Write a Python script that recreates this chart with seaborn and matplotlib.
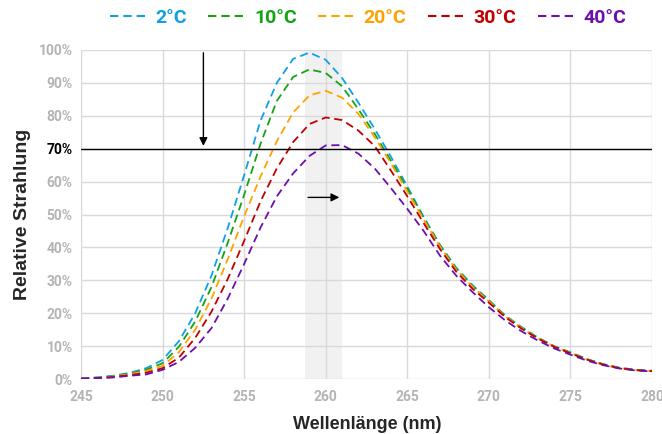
import numpy as np
import pandas as pd
import matplotlib
matplotlib.use("Agg")
import matplotlib.pyplot as plt
import seaborn as sns

wavelength = list(range(245, 281))

temps = ["2°C", "10°C", "20°C", "30°C", "40°C"]
colors = ["#0fa0e6", "#13a413", "#ffa200", "#c00000", "#6d0eb0"]

t02 = [0.2, 0.5, 1.0, 1.9, 3.3, 5.8, 11.5, 20.0, 31.5, 46.0, 62.0, 78.5, 90.0, 97.3, 99.2,
       97.0, 91.5, 84.0, 76.0, 67.5, 58.5, 49.3, 40.8, 33.8, 28.5, 24.0, 19.3, 15.8, 12.6,
       10.0, 8.1, 6.1, 4.5, 3.4, 2.8, 2.5]
t10 = [0.2, 0.4, 0.9, 1.7, 2.8, 4.8, 9.8, 17.5, 28.0, 41.5, 56.0, 71.5, 84.5, 91.8, 94.1,
       93.0, 89.0, 82.0, 74.5, 66.3, 57.8, 49.0, 40.6, 33.5, 28.2, 23.8, 19.2, 15.6, 12.5,
       9.9, 8.0, 6.0, 4.5, 3.4, 2.8, 2.5]
t20 = [0.15, 0.35, 0.8, 1.5, 2.4, 4.0, 8.2, 15.0, 24.5, 36.5, 49.5, 61.5, 72.3, 81.0, 86.2,
       87.6, 85.5, 80.6, 73.5, 65.5, 57.0, 48.5, 40.3, 33.2, 28.0, 23.6, 19.0, 15.5, 12.4,
       9.9, 7.9, 6.0, 4.4, 3.3, 2.7, 2.4]
t30 = [0.1, 0.3, 0.6, 1.2, 1.9, 3.3, 6.5, 12.5, 20.5, 30.5, 42.0, 54.0, 64.0, 72.0, 77.5,
       79.5, 78.7, 75.5, 70.8, 63.3, 55.5, 47.4, 39.5, 32.6, 27.4, 23.2, 18.8, 15.3, 12.3,
       9.8, 7.8, 5.9, 4.4, 3.3, 2.7, 2.4]
t40 = [0.1, 0.25, 0.5, 1.0, 1.4, 2.8, 5.2, 9.5, 15.5, 24.5, 35.0, 46.0, 55.5, 62.5, 67.8,
       71.0, 71.1, 68.5, 64.0, 58.0, 51.7, 45.0, 37.5, 31.4, 26.4, 21.8, 17.8, 14.5, 11.7,
       9.3, 7.4, 5.6, 4.2, 3.2, 2.6, 2.3]

series = [t02, t10, t20, t30, t40]

band = (258.75, 261.0)
threshold = 70
arrow_v_x = 252.5
arrow_h_y = 55.2

df = pd.DataFrame({
    "wl": wavelength * len(temps),
    "val": sum(series, []),
    "temp": sum([[t] * len(wavelength) for t in temps], []),
})

sns.set_style("white")
plt.rcParams["font.family"] = ["Roboto", "DejaVu Sans"]

fig = plt.figure(figsize=(6.62, 4.34), dpi=100)
ax = fig.add_axes([0.1224, 0.1267, 0.8626, 0.7581])

ax.axvspan(band[0], band[1], color="#f1f1f1", zorder=0, lw=0)

for v in range(0, 101, 10):
    ax.axhline(v, color="#d9d9d9", lw=1.0, zorder=1)
for v in range(245, 281, 5):
    ax.axvline(v, color="#d9d9d9", lw=1.0, zorder=1)

sns.lineplot(data=df, x="wl", y="val", hue="temp", palette=dict(zip(temps, colors)),
             ax=ax, legend=False, lw=1.3, zorder=3, estimator=None)
for line in ax.get_lines()[-len(temps):]:
    line.set_dashes((4.5, 2.6))

ax.axhline(threshold, color="black", lw=1.0, zorder=4)

ax.annotate("", xy=(arrow_v_x, threshold), xytext=(arrow_v_x, 100),
            arrowprops=dict(arrowstyle="-|>", color="black", lw=1.0, mutation_scale=12),
            zorder=5)
ax.annotate("", xy=(band[1], arrow_h_y), xytext=(band[0], arrow_h_y),
            arrowprops=dict(arrowstyle="-|>", color="black", lw=1.0, mutation_scale=12),
            zorder=5)

ax.set_xlim(245, 280)
ax.set_ylim(0, 100)
ax.set_xticks(range(245, 281, 5))
ax.set_yticks(range(0, 101, 10))
ax.set_yticklabels([f"{v}%" for v in range(0, 101, 10)])
for lab in ax.get_xticklabels() + ax.get_yticklabels():
    lab.set_fontweight("bold")
    lab.set_fontsize(10)
    lab.set_color("#b4b4b4")
for lab in ax.get_yticklabels():
    if lab.get_text() == "70%":
        lab.set_color("black")
ax.tick_params(axis="both", length=0, pad=6)
ax.tick_params(axis="x", pad=8)
for s in ax.spines.values():
    s.set_visible(False)

ax.set_xlabel("Wellenlänge (nm)", fontsize=13, fontweight="bold",
              family=["Liberation Sans", "DejaVu Sans"])
ax.xaxis.set_label_coords(0.5005, -0.113)
ax.set_ylabel("Relative Strahlung", fontsize=14, fontweight="bold",
              family=["Liberation Sans", "DejaVu Sans"])
ax.yaxis.set_label_coords(-0.087, 0.5)

handles = [plt.Line2D([], [], color=c, lw=1.5, dashes=(4.0, 2.4)) for c in colors]
leg = fig.legend(handles, temps, loc="center", bbox_to_anchor=(0.556, 0.958), ncol=5,
                 frameon=False, handlelength=2.0, handletextpad=0.35, columnspacing=1.1,
                 prop={"weight": "bold", "size": 14})
for txt, c in zip(leg.get_texts(), colors):
    txt.set_color(c)

fig.savefig("out.png", dpi=100)
